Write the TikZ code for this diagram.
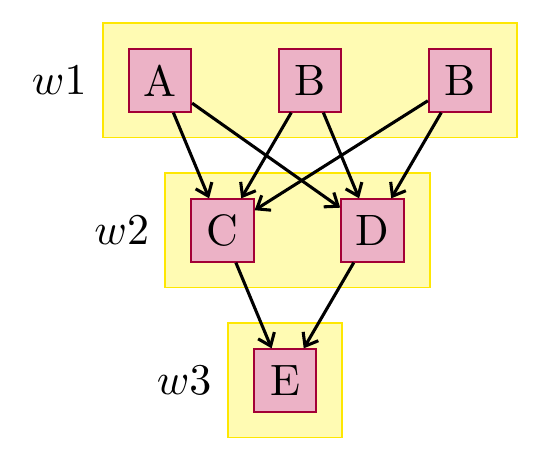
\documentclass[tikz,border=0pt]{standalone}
\usetikzlibrary{fit,backgrounds,arrows.meta}
\begin{document}
\begin{tikzpicture}[
      box/.style={draw=purple!85!black, fill=purple!30, minimum size=5mm},
      group/.style={draw=yellow!90!orange, fill=yellow!30, inner sep=2mm},
      >={Straight Barb[length=2.6pt,width=4pt]}]
   \useasboundingbox (-1.28,-3.044) rectangle (3.04,0.644);

   \begin{scope}[name prefix = w1-]
      \node[box] (A) at (0, 0) {A};
      \node[box] (B1) at (1.2, 0) {B};
      \node[box] (B2) at (2.4, 0) {B};
   \end{scope}

   \begin{scope}[name prefix = w2-]
      \node[box] (C) at (0.5, -1.2) {C};
      \node[box] (D) at (1.7, -1.2) {D};
   \end{scope}

   \begin{scope}[name prefix = w3-]
      \node[box] (E) at (1, -2.4) {E};
   \end{scope}

   \begin{scope}[on background layer]
      \node[group, fit=(w1-A)(w1-B2), label={left:$w1$}] (w1) {};
      \node[group, fit=(w2-C)(w2-D), label={left:$w2$}] (w2) {};
      \node[group, fit=(w3-E), label={left:$w3$}] (w3) {};
   \end{scope}

   \begin{scope}[line width=0.7pt]
      \draw[->] (w1-A) -- (w2-C);
      \draw[->] (w1-A) -- (w2-D);
      \draw[->] (w1-B1) -- (w2-C);
      \draw[->] (w1-B1) -- (w2-D);
      \draw[->] (w1-B2) -- (w2-C);
      \draw[->] (w1-B2) -- (w2-D);
      \draw[->] (w2-C) -- (w3-E);
      \draw[->] (w2-D) -- (w3-E);
   \end{scope}
\end{tikzpicture}
\end{document}
